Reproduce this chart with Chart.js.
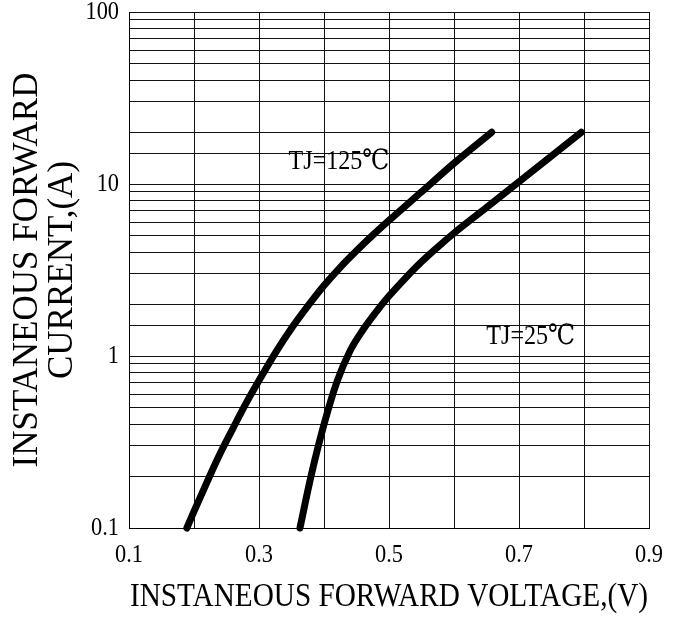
<!DOCTYPE html>
<html>
<head>
<meta charset="utf-8">
<script src="https://cdn.jsdelivr.net/npm/chart.js@4"></script>
<style>
html,body{margin:0;padding:0;background:#fff;}
#wrap{width:683px;height:618px;}
</style>
</head>
<body>
<div id="wrap"><canvas id="c" width="683" height="618"></canvas></div>
<script>
// ---- data ----
const voltage125 = [0.189, 0.20, 0.22, 0.24, 0.26, 0.28, 0.30, 0.325, 0.35, 0.375, 0.40, 0.425, 0.45, 0.475, 0.50, 0.55, 0.60, 0.658];
const current125 = [0.1, 0.125, 0.185, 0.27, 0.38, 0.53, 0.72, 1.04, 1.45, 1.95, 2.57, 3.28, 4.09, 5.04, 6.14, 9.0, 13.2, 20];
const voltage25 = [0.363, 0.38, 0.40, 0.42, 0.44, 0.46, 0.48, 0.50, 0.525, 0.55, 0.575, 0.60, 0.65, 0.70, 0.796];
const current25 = [0.1, 0.2, 0.4, 0.71, 1.07, 1.42, 1.8, 2.23, 2.83, 3.53, 4.3, 5.18, 7.3, 10.3, 20];
const seriesNames = ['TJ=125\u2103', 'TJ=25\u2103'];
const xTickLabels = ['0.1', '0.3', '0.5', '0.7', '0.9'];
const yTickLabels = ['0.1', '1', '10', '100'];
const xTitle = 'INSTANEOUS FORWARD VOLTAGE,(V)';
const yTitle = ['INSTANEOUS FORWARD', 'CURRENT,(A)'];

const FONT = "'Liberation Serif', 'DejaVu Serif', serif";
const SX = 0.86; // horizontal condensing of upright text

const condensePlugin = {
  id: 'condense',
  beforeInit(chart) {
    const ctx = chart.ctx;
    if (ctx.__condensed) return;
    const orig = ctx.fillText.bind(ctx);
    ctx.fillText = function (t, x, y, mw) {
      const m = ctx.getTransform();
      if (Math.abs(m.b) > 1e-6 || Math.abs(m.c) > 1e-6) return orig(t, x, y);
      ctx.save();
      ctx.translate(x, y);
      ctx.scale(SX, 1);
      orig(t, 0, 0);
      ctx.restore();
    };
    ctx.__condensed = true;
  }
};

const curveLabelPlugin = {
  id: 'curveLabels',
  afterDatasetsDraw(chart, args, opts) {
    const { ctx, scales: { x, y } } = chart;
    ctx.save();
    ctx.font = `${opts.size}px ${FONT}`;
    ctx.fillStyle = '#000';
    ctx.textAlign = 'center';
    ctx.textBaseline = 'middle';
    opts.items.forEach(it => {
      ctx.fillText(it.text, x.getPixelForValue(it.v), y.getPixelForValue(it.i));
    });
    ctx.restore();
  }
};

function pts(xs, ys) { return xs.map((v, i) => ({ x: v, y: ys[i] })); }

const lineStyle = {
  borderColor: '#000', backgroundColor: '#000', borderWidth: 7, pointRadius: 0,
  cubicInterpolationMode: 'monotone', borderCapStyle: 'round', borderJoinStyle: 'round',
  clip: false, fill: false
};

new Chart(document.getElementById('c'), {
  type: 'line',
  data: {
    datasets: [
      Object.assign({ label: seriesNames[0], data: pts(voltage125, current125) }, lineStyle),
      Object.assign({ label: seriesNames[1], data: pts(voltage25, current25) }, lineStyle)
    ]
  },
  options: {
    responsive: false,
    animation: false,
    layout: { padding: { left: 0, right: 34, top: 12, bottom: 0 } },
    plugins: {
      legend: { display: false },
      tooltip: { enabled: false },
      curveLabels: {
        size: 28,
        items: [
          { text: seriesNames[0], v: 0.423, i: 13.4 },
          { text: seriesNames[1], v: 0.718, i: 1.29 }
        ]
      }
    },
    scales: {
      x: {
        type: 'linear', min: 0.1, max: 0.9,
        ticks: {
          stepSize: 0.1, autoSkip: false, maxRotation: 0, color: '#000', padding: 12,
          font: { family: FONT, size: 26 },
          callback: (v) => {
            const s = (Math.round(v * 10) / 10).toFixed(1);
            return xTickLabels.includes(s) ? s : '';
          }
        },
        grid: { color: '#111', lineWidth: 1, drawTicks: false },
        border: { color: '#000', width: 1 },
        title: { display: true, text: xTitle, color: '#000', font: { family: FONT, size: 34, lineHeight: 1.0 }, padding: { top: 0, bottom: 4 } },
        afterFit: (s) => { s.height = 90; s.paddingLeft = 0; s.paddingRight = 0; }
      },
      y: {
        type: 'logarithmic', min: 0.1, max: 100,
        ticks: {
          autoSkip: false, color: '#000', padding: 10,
          font: { family: FONT, size: 26 },
          callback: (v) => {
            const s = String(Math.round(v * 10) / 10);
            return yTickLabels.includes(s) && Math.abs(Math.log10(v) - Math.round(Math.log10(v))) < 1e-6 ? s : '';
          }
        },
        grid: { color: '#111', lineWidth: 1, drawTicks: false },
        border: { color: '#000', width: 1 },
        title: { display: true, text: yTitle, color: '#000', font: { family: FONT, size: 35, lineHeight: 1.0 }, padding: { top: 10, bottom: 0 } },
        afterFit: (s) => { s.width = 129; s.paddingTop = 0; s.paddingBottom = 0; }
      }
    }
  },
  plugins: [condensePlugin, curveLabelPlugin]
});
</script>
</body>
</html>
